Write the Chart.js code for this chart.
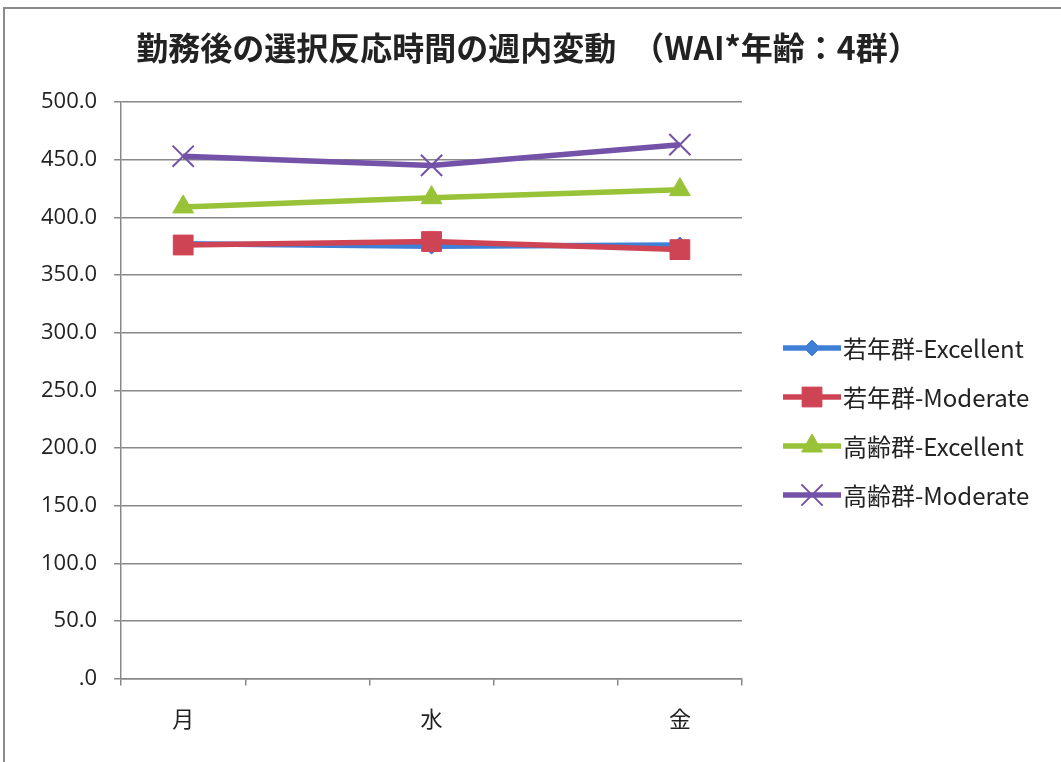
<!DOCTYPE html>
<html>
<head>
<meta charset="utf-8">
<script src="https://cdn.jsdelivr.net/npm/chart.js@4/dist/chart.umd.min.js"></script>
<style>
  body { margin: 0; background: #fff; }
  #frame { position: absolute; left: 3px; top: 7px; width: 1061px; height: 762px;
           border-left: 2px solid #8a8a8a; border-top: 2px solid #8a8a8a; }
  #wrap { position: absolute; left: 0; top: 0; width: 1061px; height: 762px; }
</style>
</head>
<body>
<div id="frame"></div>
<div id="wrap"><canvas id="chart"></canvas></div>
<script>
// 曜日（火・木はラベルなし）
const days = ['月', '', '水', '', '金'];

const youngExcellent = [377, null, 375, null, 376];
const youngModerate  = [376, null, 379, null, 372];
const oldExcellent   = [409, null, 417, null, 424];
const oldModerate    = [453, null, 445, null, 463];

const seriesNames = ['若年群-Excellent', '若年群-Moderate', '高齢群-Excellent', '高齢群-Moderate'];
const colors = ['#3f7fd6', '#cf4455', '#98c237', '#7352a8'];
const titleText = '勤務後の選択反応時間の週内変動　（WAI*年齢：4群）';

const FONT = '"Noto Sans CJK JP", "Noto Sans", sans-serif';

function ds(i, data, style, radius, bw) {
  return {
    label: seriesNames[i], data,
    borderColor: colors[i], backgroundColor: colors[i],
    borderWidth: 5.5, pointStyle: style, pointRadius: radius,
    pointBorderWidth: bw, pointHoverRadius: radius,
    spanGaps: true, tension: 0, order: 4 - i
  };
}

// タイトルと凡例（線＋マーカー）
const decorPlugin = {
  id: 'excelDecor',
  afterDraw(chart) {
    const ctx = chart.ctx;
    ctx.save();
    ctx.fillStyle = '#222';
    ctx.font = 'bold 32px ' + FONT;
    ctx.textAlign = 'center';
    ctx.textBaseline = 'middle';
    ctx.fillText(titleText, 528, 48);
    ctx.restore();

    const x0 = 783, y0 = 348, step = 49;
    chart.data.datasets.forEach((d, i) => {
      const y = y0 + i * step;
      ctx.save();
      ctx.strokeStyle = d.borderColor;
      ctx.fillStyle = d.backgroundColor;
      ctx.lineWidth = 5.5;
      ctx.beginPath();
      ctx.moveTo(x0, y);
      ctx.lineTo(x0 + 58, y);
      ctx.stroke();
      ctx.lineWidth = d.pointBorderWidth;
      Chart.helpers.drawPoint(ctx, { pointStyle: d.pointStyle, radius: d.pointRadius, rotation: 0, borderWidth: d.pointBorderWidth }, x0 + 29, y);
      ctx.fillStyle = '#222';
      ctx.font = '24px ' + FONT;
      ctx.textBaseline = 'middle';
      ctx.fillText(d.label, x0 + 60, y + 1);
      ctx.restore();
    });
  }
};

new Chart(document.getElementById('chart'), {
  type: 'line',
  data: {
    labels: days,
    datasets: [
      ds(0, youngExcellent, 'rectRot', 8, 1),
      ds(1, youngModerate, 'rect', 14, 1),
      ds(2, oldExcellent, 'triangle', 12, 1),
      ds(3, oldModerate, 'crossRot', 15, 2)
    ]
  },
  plugins: [decorPlugin],
  options: {
    responsive: true,
    maintainAspectRatio: false,
    animation: false,
    layout: { padding: { left: 24, right: 319, top: 102, bottom: 10 } },
    plugins: {
      legend: { display: false },
      tooltip: { enabled: false },
      title: { display: false }
    },
    scales: {
      x: {
        offset: true,
        grid: { offset: true, drawOnChartArea: false, drawTicks: true, tickLength: 7, color: '#888', lineWidth: 1.5 },
        border: { color: '#888', width: 1.5 },
        ticks: { autoSkip: false, maxRotation: 0, padding: 20, color: '#222', font: { family: FONT, size: 22 } }
      },
      y: {
        min: 0, max: 500,
        grid: { color: '#888', lineWidth: 1.5, tickLength: 7 },
        border: { color: '#888', width: 1.5 },
        ticks: {
          stepSize: 50, padding: 17, color: '#222',
          font: { family: '"Open Sans", "Noto Sans", sans-serif', size: 22 },
          callback: v => v === 0 ? '.0' : v.toFixed(1)
        }
      }
    }
  }
});
</script>
</body>
</html>
